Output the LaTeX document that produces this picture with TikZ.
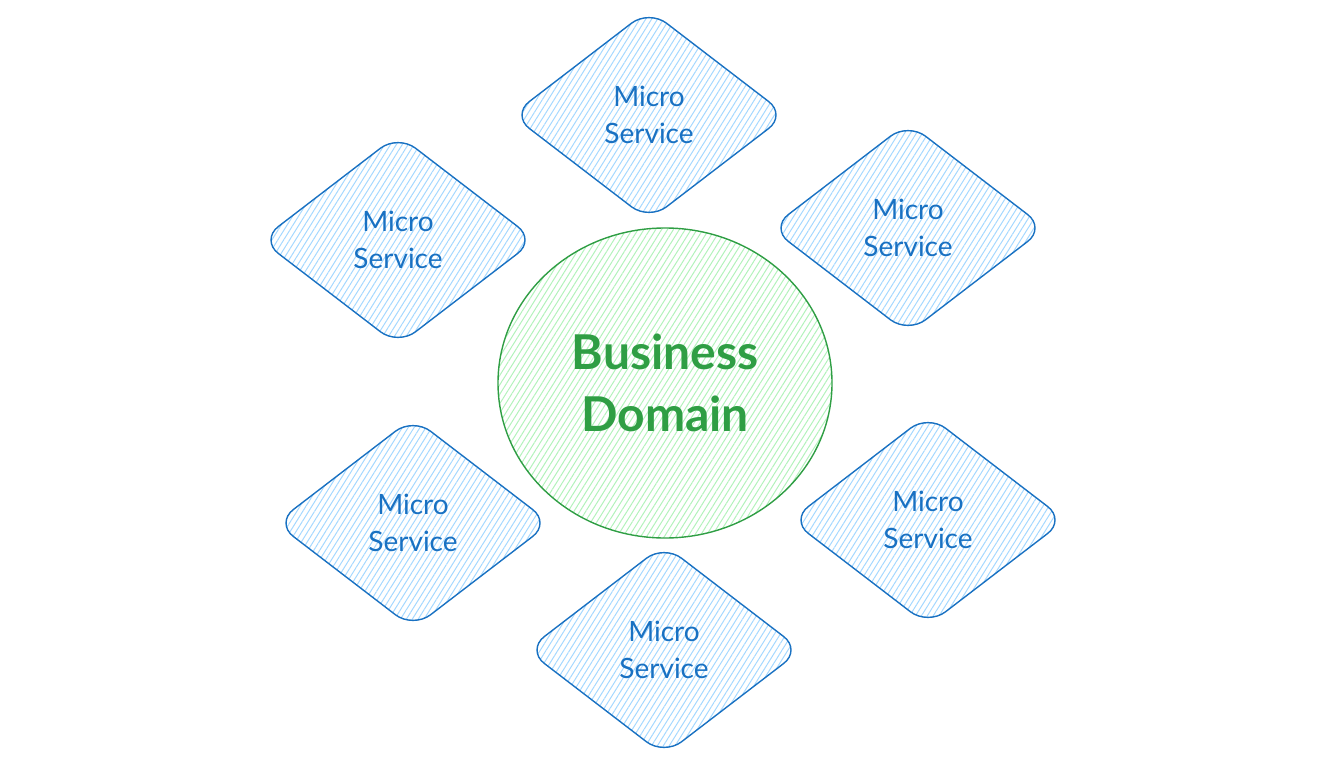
\documentclass[tikz,border=0pt]{standalone}
\usepackage{fontspec}
\setmainfont{Lato}
\usetikzlibrary{shapes.geometric,patterns.meta}
\definecolor{msblue}{HTML}{1971C2}
\definecolor{mshatch}{HTML}{A5D8FF}
\definecolor{bdgreen}{HTML}{2F9E44}
\definecolor{bdhatch}{HTML}{B2F2BB}
\tikzset{
  msbox/.style={diamond, draw=msblue, line width=1.4pt, rounded corners=22pt,
    minimum width=275pt, minimum height=211pt, inner sep=0pt,
    pattern={Lines[angle=58, distance=5pt, line width=1pt]}, pattern color=mshatch},
  mstext/.style={text=msblue, font=\fontsize{28}{37}\selectfont, align=center},
  bdcircle/.style={ellipse, draw=bdgreen, line width=1.4pt, minimum width=334pt, minimum height=310pt,
    inner sep=0pt, pattern={Lines[angle=58, distance=5pt, line width=1pt]}, pattern color=bdhatch},
  domtext/.style={text=bdgreen, font=\bfseries\fontsize{48}{62}\selectfont, align=center}
}
\begin{document}
\begin{tikzpicture}[x=1pt,y=-1pt]
\useasboundingbox (0,0) rectangle (1325,760);
\node[bdcircle] (bd) at (665,383) {};
\node[domtext] (bdt) at (665,383) {Business\\Domain};
\node[msbox] (m1) at (649,115) {};
\node[mstext] (t1) at (649,115) {Micro\\Service};
\node[msbox] (m2) at (398,240) {};
\node[mstext] (t2) at (398,240) {Micro\\Service};
\node[msbox] (m3) at (908,228) {};
\node[mstext] (t3) at (908,228) {Micro\\Service};
\node[msbox] (m4) at (413,523) {};
\node[mstext] (t4) at (413,523) {Micro\\Service};
\node[msbox] (m5) at (928,520) {};
\node[mstext] (t5) at (928,520) {Micro\\Service};
\node[msbox] (m6) at (664,650) {};
\node[mstext] (t6) at (664,650) {Micro\\Service};
\end{tikzpicture}
\end{document}
